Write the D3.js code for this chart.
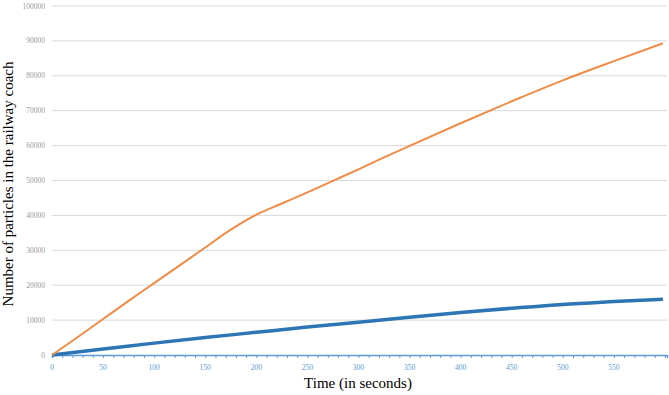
<!DOCTYPE html>
<html>
<head>
<meta charset="utf-8">
<script src="https://cdn.jsdelivr.net/npm/d3@7"></script>
<style>
	html, body { margin: 0; padding: 0; background: #fff; }
	svg { display: block; }
</style>
</head>
<body>
<script>
	// time in seconds, number of particles
	const orangeTime = [0, 25, 50, 75, 100, 125, 150, 175, 200, 225, 250, 275, 300, 325, 350, 400, 450, 500, 550, 598];
	const orangeCount = [0, 5100, 10300, 15500, 20600, 25700, 30800, 35900, 40200, 43400, 46600, 49900, 53200, 56600, 59900, 66400, 72700, 78700, 84200, 89300];

	const blueTime = [0, 50, 100, 150, 200, 250, 300, 350, 400, 450, 500, 550, 598];
	const blueCount = [0, 1700, 3400, 5000, 6500, 8000, 9400, 10800, 12200, 13400, 14500, 15300, 16000];

	const xTickLabels = [0, 50, 100, 150, 200, 250, 300, 350, 400, 450, 500, 550];
	const yTickLabels = [0, 10000, 20000, 30000, 40000, 50000, 60000, 70000, 80000, 90000, 100000];

	const width = 669, height = 395;
	const margin = { left: 52, right: 2, top: 6, bottom: 40 };

	const svg = d3.select("body").append("svg")
		.attr("width", width)
		.attr("height", height);

	const x = d3.scaleLinear()
		.domain([0, 602])
		.range([margin.left, width - margin.right]);

	const y = d3.scaleLinear()
		.domain([0, 100000])
		.range([height - margin.bottom, margin.top]);

	// gridlines
	svg.append("g")
		.selectAll("line")
		.data(yTickLabels.slice(1))
		.join("line")
		.attr("x1", margin.left)
		.attr("x2", width - margin.right)
		.attr("y1", d => y(d))
		.attr("y2", d => y(d))
		.attr("stroke", "#d9d9d9")
		.attr("stroke-width", 1);

	// y tick labels
	svg.append("g")
		.selectAll("text")
		.data(yTickLabels)
		.join("text")
		.attr("x", 45)
		.attr("y", d => y(d) + 2.5)
		.attr("text-anchor", "end")
		.attr("font-family", "Liberation Serif")
		.attr("font-size", 7.5)
		.attr("fill", "#999")
		.text(d => d);

	// x axis
	const xAxis = d3.axisBottom(x)
		.tickValues(d3.range(0, 601, 10))
		.tickSize(3)
		.tickFormat("");

	const axisG = svg.append("g")
		.attr("transform", `translate(0, ${y(0)})`)
		.call(xAxis);
	axisG.select(".domain").attr("stroke", "#5b9bd5").attr("stroke-width", 1.5);
	axisG.selectAll(".tick line").attr("stroke", "#5b9bd5");

	svg.append("g")
		.selectAll("text")
		.data(xTickLabels)
		.join("text")
		.attr("x", d => x(d))
		.attr("y", y(0) + 15)
		.attr("text-anchor", "middle")
		.attr("font-family", "Liberation Serif")
		.attr("font-size", 7.5)
		.attr("fill", "#5b9bd5")
		.text(d => d);

	// series
	const line = d3.line()
		.x(d => x(d[0]))
		.y(d => y(d[1]))
		.curve(d3.curveMonotoneX);

	svg.append("path")
		.datum(blueTime.map((t, i) => [t, blueCount[i]]))
		.attr("d", line)
		.attr("fill", "none")
		.attr("stroke", "#2e75b6")
		.attr("stroke-width", 3.5);

	svg.append("path")
		.datum(orangeTime.map((t, i) => [t, orangeCount[i]]))
		.attr("d", line)
		.attr("fill", "none")
		.attr("stroke", "#f08c46")
		.attr("stroke-width", 2);

	// axis titles
	svg.append("text")
		.attr("x", 358)
		.attr("y", 388)
		.attr("text-anchor", "middle")
		.attr("font-family", "Liberation Serif")
		.attr("font-size", 15)
		.attr("fill", "#000")
		.text("Time (in seconds)");

	svg.append("text")
		.attr("transform", "translate(13, 184) rotate(-90)")
		.attr("text-anchor", "middle")
		.attr("font-family", "Liberation Serif")
		.attr("font-size", 15)
		.attr("fill", "#000")
		.text("Number of particles in the railway coach");
</script>
</body>
</html>
